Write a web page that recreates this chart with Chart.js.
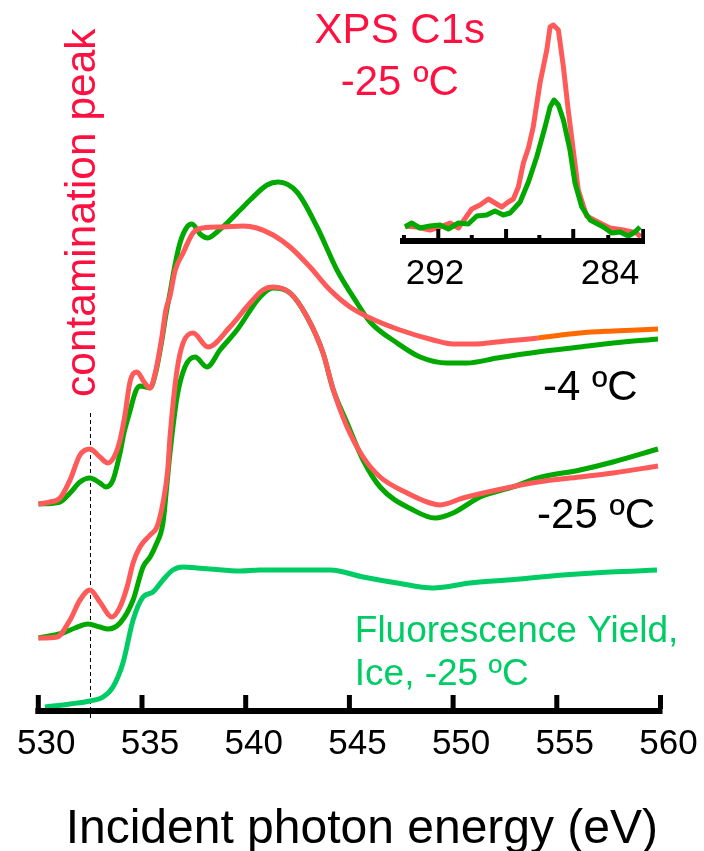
<!DOCTYPE html>
<html>
<head>
<meta charset="utf-8">
<script src="https://cdn.jsdelivr.net/npm/chart.js@4/dist/chart.umd.min.js"></script>
<style>
  html, body { margin: 0; padding: 0; background: #fff; }
  #wrap { position: relative; width: 704px; height: 851px; }
  #main { position: absolute; left: 0; top: 0; }
  #inset { position: absolute; left: 400px; top: 0; }
</style>
</head>
<body>
<div id="wrap">
  <canvas id="main" width="704" height="851"></canvas>
  <canvas id="inset" width="245" height="300"></canvas>
</div>
<script>
// ---- O K-edge NEXAFS, electron yield (offset traces), photon energy in eV ----
const energyRed4 = [530.0, 530.56, 531.05, 531.53, 532.01, 532.49, 532.97, 533.36, 533.7, 533.94, 534.18, 534.42, 534.76, 535.1, 535.39, 535.67, 535.96, 536.15, 536.35, 536.59, 536.98, 537.46, 537.94, 538.91, 539.87, 540.54, 541.32, 542.14, 543.1, 544.07, 545.03, 546.0, 547.44, 549.04, 550.0, 551.06, 552.12, 554.09, 556.12, 557.71, 559.88];
const red4 = [20.7, 20.9, 21.3, 23.1, 25.6, 26.2, 25.4, 24.8, 25.6, 27.1, 29.6, 32.9, 33.9, 32.9, 32.3, 34.1, 37.4, 40.1, 41.5, 44.0, 45.8, 47.8, 48.3, 48.4, 48.5, 48.3, 47.6, 46.4, 44.4, 42.1, 40.4, 39.3, 38.1, 37.1, 36.7, 36.7, 36.9, 37.3, 37.8, 38.0, 38.2];

const energyGreen4 = [530.0, 531.05, 531.53, 532.01, 532.49, 532.97, 533.26, 533.6, 533.94, 534.13, 534.42, 534.7, 534.9, 535.2, 535.39, 535.67, 535.96, 536.15, 536.35, 536.59, 536.83, 537.17, 537.41, 537.8, 538.18, 538.62, 539.1, 539.73, 540.21, 541.03, 541.56, 542.47, 543.44, 544.4, 545.37, 546.0, 547.3, 548.41, 549.71, 550.67, 552.12, 554.09, 556.12, 557.71, 559.88];
const green4 = [20.7, 20.9, 21.8, 22.9, 23.3, 22.8, 22.4, 23.1, 25.8, 27.8, 30.0, 32.0, 32.5, 32.4, 32.3, 33.9, 37.1, 39.6, 41.8, 44.6, 46.8, 48.4, 48.7, 47.7, 47.3, 47.9, 48.8, 50.1, 51.1, 52.6, 52.9, 51.9, 48.4, 44.1, 40.8, 38.9, 36.8, 35.4, 34.8, 34.8, 35.3, 35.9, 36.4, 36.8, 37.2];

const energyRed25 = [530.0, 530.9, 531.53, 532.01, 532.49, 532.97, 533.55, 533.94, 534.28, 534.57, 534.9, 535.39, 535.72, 536.01, 536.24, 536.35, 536.69, 536.98, 537.46, 538.18, 539.24, 540.21, 540.83, 541.32, 542.14, 542.96, 543.73, 544.21, 544.89, 545.66, 546.48, 547.78, 548.89, 549.37, 550.48, 552.12, 554.09, 556.12, 557.71, 559.88];
const red25 = [7.3, 7.4, 9.1, 11.1, 12.1, 10.9, 9.4, 10.4, 12.4, 14.8, 16.4, 17.6, 18.4, 20.8, 24.1, 27.4, 34.1, 36.8, 37.8, 36.4, 38.4, 40.8, 42.1, 42.4, 41.8, 39.4, 35.8, 32.2, 28.4, 25.4, 23.4, 21.8, 20.8, 20.6, 21.3, 22.1, 22.9, 23.4, 23.8, 24.5];

const energyGreen25 = [530.0, 531.19, 531.77, 532.4, 532.97, 533.36, 533.94, 534.57, 535.05, 535.39, 535.67, 536.01, 536.19, 536.35, 536.69, 537.07, 537.56, 538.13, 538.76, 539.58, 540.69, 541.32, 542.14, 542.96, 543.73, 544.21, 544.89, 545.66, 546.48, 548.07, 549.13, 550.0, 551.3, 552.89, 554.09, 556.12, 557.71, 559.88];
const green25 = [7.3, 7.8, 8.3, 8.7, 8.4, 8.2, 8.8, 11.1, 14.4, 15.4, 16.6, 18.8, 22.4, 25.8, 31.4, 34.4, 35.4, 34.4, 36.1, 38.1, 41.4, 42.3, 41.8, 39.4, 35.8, 32.2, 28.8, 25.1, 22.4, 20.1, 19.3, 19.8, 21.4, 22.4, 23.3, 24.1, 24.9, 26.2];

// fluorescence yield of ice at -25 C
const energyFY = [530.32, 531.53, 532.49, 533.12, 533.6, 534.08, 534.57, 535.05, 535.53, 536.01, 536.49, 536.98, 537.65, 538.28, 539.73, 540.69, 542.14, 544.07, 545.66, 547.3, 549.04, 550.82, 552.6, 555.3, 557.57, 559.83];
const fluorescence = [0.4, 0.7, 1.0, 1.4, 2.4, 4.8, 9.1, 11.4, 11.9, 13.1, 14.1, 14.4, 14.3, 14.2, 14.0, 14.1, 14.1, 14.1, 13.4, 12.8, 12.3, 12.8, 13.1, 13.6, 13.9, 14.1];

const energyTicks = [530, 535, 540, 545, 550, 555, 560];
const contaminationEnergy = 532.5;
const energyAxisTitle = 'Incident photon energy (eV)';

// ---- XPS C1s at -25 C, binding energy in eV ----
const bindingRed = [293.37, 292.84, 292.23, 291.77, 291.31, 290.93, 290.32, 289.94, 289.56, 288.95, 288.65, 288.42, 288.19, 287.96, 287.73, 287.51, 287.2, 286.89, 286.74, 286.59, 286.36, 286.13, 285.91, 285.68, 285.45, 285.07, 284.46, 284.0, 283.39, 282.78, 282.6];
const xpsRed = [1.5, 1.4, 1.1, 1.4, 1.8, 1.3, 3.2, 3.6, 4.2, 3.4, 3.9, 4.2, 5.4, 7.8, 9.3, 11.4, 15.8, 19.1, 21.4, 21.6, 21.1, 17.4, 13.1, 9.1, 5.1, 2.5, 1.8, 1.3, 1.1, 0.8, 0.4];
const bindingGreen = [293.37, 293.07, 292.69, 292.23, 291.77, 291.39, 290.93, 290.48, 290.09, 289.64, 289.26, 288.88, 288.57, 288.11, 287.73, 287.35, 286.97, 286.74, 286.56, 286.36, 286.13, 285.83, 285.6, 285.29, 284.91, 284.3, 283.92, 283.54, 283.16, 282.86, 282.63];
const xpsGreen = [1.4, 1.8, 1.3, 1.5, 1.6, 1.2, 1.8, 1.7, 2.5, 2.6, 3.0, 2.6, 2.8, 3.9, 5.9, 8.4, 11.4, 13.4, 14.1, 13.6, 12.1, 9.1, 5.8, 3.4, 2.1, 1.4, 0.8, 0.9, 0.5, 0.9, 1.4];
const bindingLabels = [292, 284];
const bindingTicksLong = [291.85, 288.75, 285.68, 282.48];
const bindingTicksShort = [293.42, 290.32, 287.23, 284.08];

// ---- colours & fonts ----
const RED = '#ff5a5a';
const ORANGE = '#ff6a00';
const GREEN = '#00a800';
const FY_GREEN = '#00cc66';
const LABEL_RED = '#ff1040';
const FONT = "'Liberation Sans', Arial, Helvetica, sans-serif";

const pts = (xs, ys) => xs.map((x, i) => ({ x, y: ys[i] }));

const line = (data, color, extra = {}) => Object.assign({
  data, borderColor: color, borderWidth: 5, pointRadius: 0,
  cubicInterpolationMode: 'monotone', fill: false,
  borderCapStyle: 'butt', borderJoinStyle: 'round'
}, extra);

// keep the plot area exactly where the layout padding puts it
const noLabelPadding = s => { s.paddingLeft = 0; s.paddingRight = 0; };

// axis line with inward ticks, the dashed marker, axis title and the text notes
const mainDecor = {
  id: 'mainDecor',
  beforeDatasetsDraw(chart) {
    const { ctx, scales: { x, y } } = chart;
    const px = Math.round(x.getPixelForValue(contaminationEnergy)) + 0.5;
    ctx.save();
    ctx.strokeStyle = '#000';
    ctx.lineWidth = 1;
    ctx.setLineDash([4, 3]);
    ctx.beginPath();
    ctx.moveTo(px, y.getPixelForValue(29.8));
    ctx.lineTo(px, y.bottom + 9);
    ctx.stroke();
    ctx.restore();
  },
  afterDatasetsDraw(chart) {
    const { ctx, scales: { x, y } } = chart;
    const yb = y.bottom;
    ctx.save();
    ctx.fillStyle = '#000';
    const x0 = x.getPixelForValue(energyTicks[0]);
    const x1 = x.getPixelForValue(energyTicks[energyTicks.length - 1]);
    ctx.fillRect(x0 - 3, yb - 3, x1 - x0 + 5, 6);
    energyTicks.forEach(v => {
      const p = x.getPixelForValue(v);
      ctx.fillRect(p - 2.5, yb - 16, 5, 14);
    });
    ctx.restore();
  },
  afterDraw(chart) {
    const { ctx, scales: { x, y } } = chart;
    ctx.save();
    ctx.textBaseline = 'alphabetic';

    // axis title, centred a little right of the plot centre
    ctx.textAlign = 'center';
    ctx.fillStyle = '#000';
    ctx.font = `48px ${FONT}`;
    ctx.fillText(energyAxisTitle, x.getPixelForValue(545.6), y.bottom + 132);

    // vertical note next to the dashed marker
    ctx.save();
    ctx.translate(x.getPixelForValue(532.74), y.getPixelForValue(31.4));
    ctx.rotate(-Math.PI / 2);
    ctx.fillStyle = LABEL_RED;
    ctx.font = `42.5px ${FONT}`;
    ctx.textAlign = 'left';
    ctx.fillText('contamination peak', 0, 0);
    ctx.restore();

    ctx.textAlign = 'left';
    ctx.fillStyle = '#000';
    ctx.font = `42px ${FONT}`;
    ctx.fillText('-4 \u00BAC', x.getPixelForValue(554.33), y.getPixelForValue(31.1));
    ctx.fillText('-25 \u00BAC', x.getPixelForValue(554.05), y.getPixelForValue(18.3));

    ctx.fillStyle = FY_GREEN;
    ctx.font = `37px ${FONT}`;
    ctx.fillText('Fluorescence Yield,', x.getPixelForValue(545.26), y.getPixelForValue(6.9));
    ctx.fillText('Ice, -25 \u00BAC', x.getPixelForValue(545.26), y.getPixelForValue(2.6));

    ctx.textAlign = 'center';
    ctx.fillStyle = LABEL_RED;
    ctx.font = `42px ${FONT}`;
    ctx.fillText('XPS C1s', x.getPixelForValue(547.43), y.getPixelForValue(66.8));
    ctx.fillText('-25 \u00BAC', x.getPixelForValue(547.43), y.getPixelForValue(61.6));
    ctx.restore();
  }
};

new Chart(document.getElementById('main'), {
  type: 'line',
  data: {
    datasets: [
      line(pts(energyRed4, red4), RED, {
        segment: { borderColor: c => (c.p0.parsed.x >= 554 ? ORANGE : RED) }
      }),
      line(pts(energyGreen4, green4), GREEN),
      line(pts(energyRed25, red25), RED),
      line(pts(energyGreen25, green25), GREEN),
      line(pts(energyFY, fluorescence), FY_GREEN)
    ]
  },
  options: {
    responsive: false,
    animation: false,
    devicePixelRatio: 1,
    layout: { padding: { left: 38.3, right: 43.5, top: 0, bottom: 0 } },
    plugins: { legend: { display: false }, tooltip: { enabled: false } },
    scales: {
      x: {
        type: 'linear',
        min: 530, max: 560,
        afterBuildTicks: s => { s.ticks = energyTicks.map(v => ({ value: v })); },
        afterFit: s => { s.height = 140; noLabelPadding(s); },
        grid: { display: false, drawTicks: false },
        border: { display: false },
        ticks: {
          color: '#000',
          font: { family: FONT, size: 35, lineHeight: 1 },
          padding: 16,
          labelOffset: 8,
          maxRotation: 0,
          autoSkip: false
        },
        title: { display: false, text: energyAxisTitle }
      },
      y: { display: false, min: 0, max: 71.1 }
    }
  },
  plugins: [mainDecor]
});

// inset axis line with alternating long / short inward ticks
const insetDecor = {
  id: 'insetDecor',
  afterDatasetsDraw(chart) {
    const { ctx, scales: { x, y } } = chart;
    const yb = y.bottom;
    ctx.save();
    ctx.fillStyle = '#000';
    ctx.fillRect(x.left, yb - 3, x.right - x.left, 6);
    bindingTicksLong.forEach(v => {
      ctx.fillRect(x.getPixelForValue(v) - 2, yb - 12, 4, 10);
    });
    bindingTicksShort.forEach(v => {
      ctx.fillRect(x.getPixelForValue(v) - 2, yb - 6, 4, 4);
    });
    ctx.restore();
  }
};

new Chart(document.getElementById('inset'), {
  type: 'line',
  data: {
    datasets: [
      line(pts(bindingGreen, xpsGreen), GREEN, { cubicInterpolationMode: 'default', tension: 0 }),
      line(pts(bindingRed, xpsRed), RED, { cubicInterpolationMode: 'default', tension: 0 })
    ]
  },
  options: {
    responsive: false,
    animation: false,
    devicePixelRatio: 1,
    layout: { padding: 0 },
    plugins: { legend: { display: false }, tooltip: { enabled: false } },
    scales: {
      x: {
        type: 'linear',
        reverse: true,
        min: 282.4, max: 293.6,
        afterBuildTicks: s => { s.ticks = bindingLabels.map(v => ({ value: v })); },
        afterFit: s => { s.height = 59; noLabelPadding(s); },
        grid: { display: false, drawTicks: false },
        border: { display: false },
        ticks: {
          color: '#000',
          font: { family: FONT, size: 35, lineHeight: 1 },
          padding: 16,
          maxRotation: 0,
          autoSkip: false
        }
      },
      y: { display: false, min: 0, max: 24.1 }
    }
  },
  plugins: [insetDecor]
});
</script>
</body>
</html>
